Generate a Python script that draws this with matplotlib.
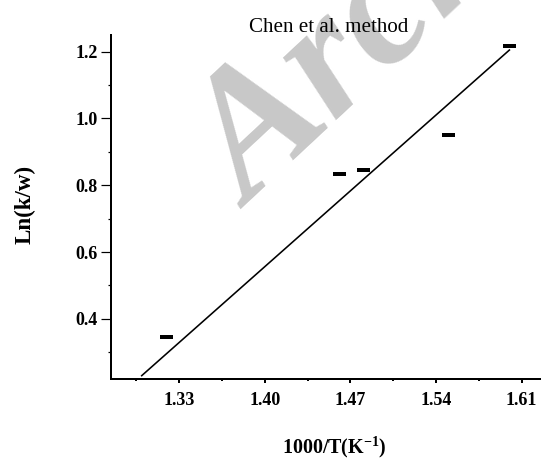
import matplotlib
matplotlib.use("Agg")
import matplotlib.pyplot as plt
from matplotlib.ticker import FixedLocator

# Data
inv_T = [1.319, 1.4605, 1.480, 1.550, 1.600]
ln_kw = [0.347, 0.833, 0.847, 0.950, 1.218]
fit_x = [1.2995, 1.600]
fit_y = [0.230, 1.205]
x_ticks = [1.33, 1.40, 1.47, 1.54, 1.61]
x_tick_labels = ["1.33", "1.40", "1.47", "1.54", "1.61"]
y_ticks = [0.4, 0.6, 0.8, 1.0, 1.2]
y_tick_labels = ["0.4", "0.6", "0.8", "1.0", "1.2"]

W, H, DPI = 545, 459, 72
plt.rcParams["font.family"] = ["Liberation Serif", "DejaVu Serif"]
plt.rcParams["mathtext.fontset"] = "custom"
plt.rcParams["mathtext.rm"] = "Liberation Serif"
plt.rcParams["mathtext.bf"] = "Liberation Serif:bold"
fig = plt.figure(figsize=(W / DPI, H / DPI), dpi=DPI)

# watermark
fig.text(250 / W, 1 - 210 / H, "Archive", fontsize=178, fontweight="bold", fontstyle="italic",
         color="#c8c8c8", rotation=43, rotation_mode="anchor",
         ha="left", va="baseline", zorder=-5)

ax = fig.add_axes([111 / W, 1 - 379 / H, (540 - 111) / W, (379 - 35) / H])
ax.patch.set_alpha(0)
ax.set_xlim(1.2744, 1.625)
ax.set_ylim(0.22, 1.25)

ax.plot(fit_x, fit_y, color="black", lw=1.6, zorder=3)
ax.plot(inv_T, ln_kw, linestyle="none", marker="_", markersize=13,
        markeredgewidth=4, color="black", zorder=4)

for s in ["top", "right"]:
    ax.spines[s].set_visible(False)
for s in ["left", "bottom"]:
    ax.spines[s].set_linewidth(2)

ax.set_xticks(x_ticks)
ax.set_xticklabels(x_tick_labels, fontsize=18, fontweight="bold")
ax.set_yticks(y_ticks)
ax.set_yticklabels(y_tick_labels, fontsize=18, fontweight="bold")
ax.xaxis.set_minor_locator(FixedLocator([x + 0.035 for x in [1.26] + x_ticks[:-1]]))
ax.yaxis.set_minor_locator(FixedLocator([0.3, 0.5, 0.7, 0.9, 1.1]))
ax.tick_params(axis="x", which="major", direction="out", length=4, width=2, pad=9)
ax.tick_params(axis="x", which="minor", direction="out", length=2, width=2)
ax.tick_params(axis="y", which="major", direction="out", length=10, width=1.2, pad=3)
ax.tick_params(axis="y", which="minor", direction="out", length=3, width=1.2)

fig.text(328.5 / W, 1 - 32 / H, "Chen et al. method", fontsize=21,
         ha="center", va="baseline")
fig.text(334 / W, 1 - 447 / H, "1000/T(K$^{\\mathbf{-1}}$)", fontsize=20, fontweight="bold",
         ha="center", va="center")
fig.text(25 / W, 1 - 204 / H, "Ln(k/w)", fontsize=23, fontweight="bold",
         ha="center", va="center", rotation=90)

fig.savefig("out.png", dpi=DPI)
